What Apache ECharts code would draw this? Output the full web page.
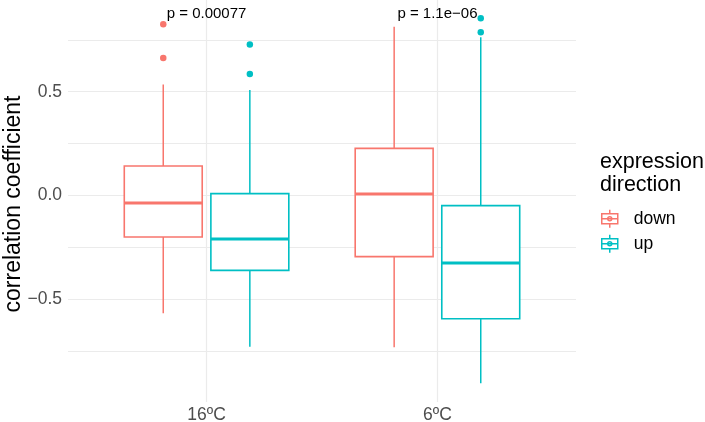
<!DOCTYPE html>
<html>
<head>
<meta charset="utf-8">
<script src="https://cdn.jsdelivr.net/npm/echarts@6/dist/echarts.min.js"></script>
<style>html,body{margin:0;padding:0;background:#fff}#c{width:705px;height:422px}</style>
</head>
<body>
<div id="c"></div>
<script>
// ---- data ----
const categories = ['16ºC', '6ºC'];
const groups = ['down', 'up'];
// [lower whisker, Q1, median, Q3, upper whisker] per category
const downStats = [[-0.568, -0.200, -0.036, 0.142, 0.535], [-0.732, -0.295, 0.007, 0.227, 0.813]];
const upStats = [[-0.729, -0.361, -0.210, 0.009, 0.508], [-0.905, -0.594, -0.326, -0.049, 0.762]];
const downOutliers = [[0.825, 0.662], []];
const upOutliers = [[0.728, 0.585], [0.854, 0.786]];
const pLabels = ['p = 0.00077', 'p = 1.1e\u221206'];
const pLabelY = [0.874, 0.874];
const yTickLabels = [-0.5, 0, 0.5];
const yGridValues = [-0.75, -0.5, -0.25, 0, 0.25, 0.5, 0.75];
const yTitle = 'correlation coefficient';

// ---- styling ----
const FONT = "'Liberation Sans', Arial, sans-serif";
const colors = { down: '#F8766D', up: '#00BFC4' };
const dodge = { down: -0.1875, up: 0.1875 };
const boxW = 0.3375;

function boxRenderer(offset, color) {
  return function (params, api) {
    const c = api.value(0) + offset;
    const lo = api.coord([c, api.value(1)]);
    const q1 = api.coord([c, api.value(2)]);
    const med = api.coord([c, api.value(3)]);
    const q3 = api.coord([c, api.value(4)]);
    const hi = api.coord([c, api.value(5)]);
    const half = api.size([boxW, 0])[0] / 2;
    const x = q1[0];
    return {
      type: 'group',
      children: [
        { type: 'line', shape: { x1: x, y1: hi[1], x2: x, y2: q3[1] }, style: { stroke: color, lineWidth: 1.5 } },
        { type: 'line', shape: { x1: x, y1: q1[1], x2: x, y2: lo[1] }, style: { stroke: color, lineWidth: 1.5 } },
        { type: 'rect', shape: { x: x - half, y: q3[1], width: half * 2, height: q1[1] - q3[1] }, style: { fill: '#fff', stroke: color, lineWidth: 1.6 } },
        { type: 'line', shape: { x1: x - half, y1: med[1], x2: x + half, y2: med[1] }, style: { stroke: color, lineWidth: 3 } }
      ]
    };
  };
}

function statsData(stats) { return stats.map((s, i) => [i + 1].concat(s)); }
function outlierData(outs, offset) {
  const arr = [];
  outs.forEach((vals, i) => vals.forEach(v => arr.push([i + 1 + offset, v])));
  return arr;
}

const legendIcon = 'path://M10,0 L10,4 M2,4 L18,4 L18,14 L2,14 Z M2,9 L18,9 M10,14 L10,18 M8,9 A2,2 0 1 0 12,9 A2,2 0 1 0 8,9';

const chart = echarts.init(document.getElementById('c'), null, { renderer: 'canvas' });
chart.setOption({
  animation: false,
  backgroundColor: '#fff',
  textStyle: { fontFamily: FONT },
  grid: { left: 68, right: 129, top: 0, bottom: 20, containLabel: false, outerBoundsMode: 'none' },
  title: {
    text: 'expression\ndirection', left: 600, top: 151, padding: 0,
    textStyle: { fontSize: 21.5, fontWeight: 'normal', color: '#000', lineHeight: 23, fontFamily: FONT }
  },
  graphic: [{
    type: 'text', x: 14, y: 204, rotation: Math.PI / 2,
    style: { text: yTitle, align: 'center', verticalAlign: 'middle', fontSize: 23, fill: '#000', fontFamily: FONT }
  }],
  legend: {
    orient: 'vertical', left: 601, top: 209, itemWidth: 20, itemHeight: 18, itemGap: 5.5,
    padding: 0,
    textStyle: { fontSize: 17.5, color: '#000', fontFamily: FONT, padding: [0, 0, 0, 9] },
    data: groups.map(g => ({ name: g, icon: legendIcon, itemStyle: { color: 'transparent', borderColor: colors[g], borderWidth: 1.5 } }))
  },
  xAxis: {
    type: 'value', min: 0.4, max: 2.6,
    axisLine: { show: false },
    axisTick: { show: false, customValues: [1, 2] },
    axisLabel: {
      customValues: [1, 2], margin: 4, fontSize: 17.5, color: '#4d4d4d', fontFamily: FONT,
      formatter: v => categories[Math.round(v) - 1]
    },
    splitLine: { show: true, lineStyle: { color: '#ebebeb', width: 1.2 } }
  },
  yAxis: {
    type: 'value', min: -0.9955, max: 0.942,
    axisLine: { show: false },
    axisTick: { show: false, customValues: yGridValues },
    axisLabel: {
      customValues: yTickLabels, margin: 6, fontSize: 17.5, color: '#4d4d4d', fontFamily: FONT,
      formatter: v => (v < 0 ? '\u2212' : '') + Math.abs(v).toFixed(1)
    },
    splitLine: { show: true, lineStyle: { color: '#ebebeb', width: 1.2 } }
  },
  series: [
    { name: 'down', type: 'custom', renderItem: boxRenderer(dodge.down, colors.down), data: statsData(downStats), encode: { x: 0, y: [1, 2, 3, 4, 5] }, itemStyle: { color: colors.down }, z: 2 },
    { name: 'up', type: 'custom', renderItem: boxRenderer(dodge.up, colors.up), data: statsData(upStats), encode: { x: 0, y: [1, 2, 3, 4, 5] }, itemStyle: { color: colors.up }, z: 2 },
    { name: 'down', type: 'scatter', symbolSize: 6.5, itemStyle: { color: colors.down, opacity: 1 }, data: outlierData(downOutliers, dodge.down), z: 3 },
    { name: 'up', type: 'scatter', symbolSize: 6.5, itemStyle: { color: colors.up, opacity: 1 }, data: outlierData(upOutliers, dodge.up), z: 3 },
    {
      type: 'custom', z: 4, silent: true,
      data: pLabels.map((t, i) => [i + 1, pLabelY[i]]),
      encode: { x: 0, y: 1 },
      renderItem: function (params, api) {
        const p = api.coord([api.value(0), api.value(1)]);
        return { type: 'text', x: p[0], y: p[1], style: { text: pLabels[params.dataIndex], align: 'center', verticalAlign: 'middle', fontSize: 15, fill: '#000', fontFamily: FONT } };
      }
    }
  ]
});
</script>
</body>
</html>
